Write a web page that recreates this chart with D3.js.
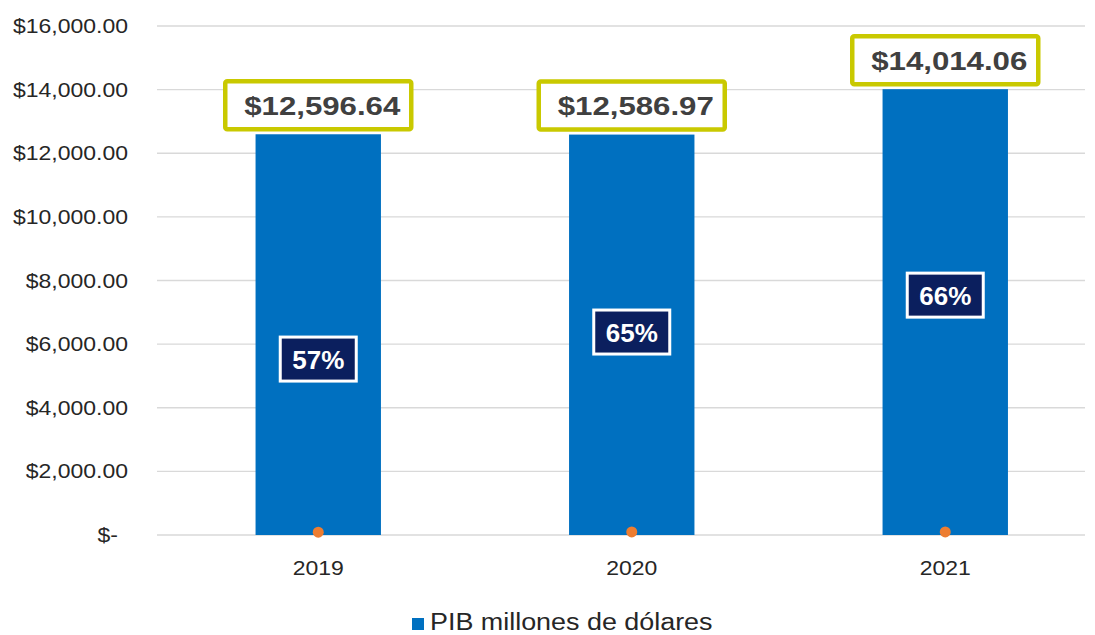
<!DOCTYPE html>
<html><head><meta charset="utf-8">
<script src="https://cdn.jsdelivr.net/npm/d3@7"></script>
<style>body{margin:0;background:#fff}svg{display:block}</style>
</head><body>
<svg id="c" width="1095" height="635"></svg>
<script>
const years = ["2019", "2020", "2021"];
const pib = [12596.64, 12586.97, 14014.06];
const pibLabels = ["$12,596.64", "$12,586.97", "$14,014.06"];
const pct = [57, 65, 66];
const pctLabels = ["57%", "65%", "66%"];
const pctLabelAt = [5530, 6380, 7540];
const yTicks = [0, 2000, 4000, 6000, 8000, 10000, 12000, 14000, 16000];
const yTickLabels = ["$-", "$2,000.00", "$4,000.00", "$6,000.00", "$8,000.00", "$10,000.00", "$12,000.00", "$14,000.00", "$16,000.00"];
const legendLabel = "PIB millones de dólares";

const svg = d3.select("#c");
const y = d3.scaleLinear().domain([0, 16000]).range([535, 26]);
const x = d3.scaleBand().domain(years).range([161.5, 1102]).paddingInner(0.6).paddingOuter(0.3);
const gx0 = 157, gx1 = 1085;

function txt(g, s, xx, yy, opts) {
  const t = g.append("text")
    .attr("transform", `translate(${xx},${yy}) scale(${opts.sx||1},1)`)
    .attr("text-anchor", opts.anchor || "middle")
    .attr("font-family", opts.family || "'Liberation Sans', Arial, sans-serif")
    .attr("font-size", opts.size)
    .attr("font-weight", opts.weight || "normal")
    .attr("fill", opts.fill || "#404040")
    .text(s);
  return t;
}

// gridlines
svg.append("g").selectAll("line").data(yTicks).join("line")
  .attr("x1", gx0).attr("x2", gx1)
  .attr("y1", d => y(d)).attr("y2", d => y(d))
  .attr("stroke", "#d9d9d9").attr("stroke-width", 1.3);

// y tick labels
const yl = svg.append("g");
yTicks.forEach((d, i) => {
  const off = d === 0 ? 10 : 0;
  txt(yl, yTickLabels[i], 128 - off, y(d) + 7, {size: 20, sx: 1.15, anchor: "end", fill: "#262626"});
});

// bars
svg.append("g").selectAll("rect").data(years).join("rect")
  .attr("x", d => x(d)).attr("width", x.bandwidth())
  .attr("y", (d, i) => y(pib[i])).attr("height", (d, i) => y(0) - y(pib[i]))
  .attr("fill", "#0070c0");

// orange dots
svg.append("g").selectAll("circle").data(years).join("circle")
  .attr("cx", d => x(d) + x.bandwidth() / 2)
  .attr("cy", (d, i) => y(pct[i]) - 1)
  .attr("r", 5.5).attr("fill", "#ed7d31");

// x labels
const xl = svg.append("g");
years.forEach(d => txt(xl, d, x(d) + x.bandwidth() / 2, 575, {size: 20, sx: 1.15, fill: "#262626"}));

// value boxes
const vb = svg.append("g");
years.forEach((d, i) => {
  const cx = x(d) + x.bandwidth() / 2;
  const cy = y(pib[i]) - 29;
  vb.append("rect").attr("x", cx - 93).attr("y", cy - 24).attr("width", 186).attr("height", 48)
    .attr("rx", 2).attr("fill", "#fff").attr("stroke", "#c9c900").attr("stroke-width", 4.5);
  txt(vb, pibLabels[i], cx + 4, cy + 9.5, {size: 26, sx: 1.2, weight: "bold", fill: "#404040"});
});

// pct boxes
const pb = svg.append("g");
years.forEach((d, i) => {
  const cx = x(d) + x.bandwidth() / 2;
  const cy = y(pctLabelAt[i]);
  pb.append("rect").attr("x", cx - 38).attr("y", cy - 22).attr("width", 76).attr("height", 44)
    .attr("fill", "#0b1f5e").attr("stroke", "#fff").attr("stroke-width", 3);
  txt(pb, pctLabels[i], cx, cy + 9.5, {size: 26, sx: 1.0, weight: "bold", fill: "#fff"});
});

// legend
const lg = svg.append("g");
lg.append("rect").attr("x", 412).attr("y", 618).attr("width", 12).attr("height", 12).attr("fill", "#0070c0");
txt(lg, legendLabel, 430, 630, {size: 23, sx: 1.17, anchor: "start", fill: "#262626"});
</script>
</body></html>
